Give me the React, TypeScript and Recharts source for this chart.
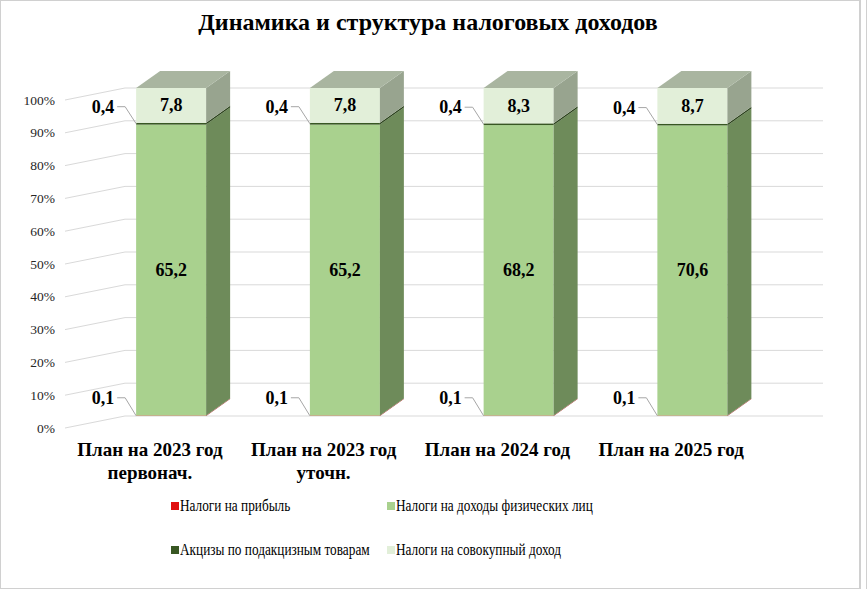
import { BarChart, Bar, XAxis, YAxis, CartesianGrid, LabelList } from 'recharts'

const categories = ['План на 2023 год\nпервонач.', 'План на 2023 год\nуточн.', 'План на 2024 год', 'План на 2025 год']
const profitTax = [0.1, 0.1, 0.1, 0.1]
const personalIncomeTax = [65.2, 65.2, 68.2, 70.6]
const excises = [0.4, 0.4, 0.4, 0.4]
const aggregateIncomeTax = [7.8, 7.8, 8.3, 8.7]
const yTicks = [0, 0.1, 0.2, 0.3, 0.4, 0.5, 0.6, 0.7, 0.8, 0.9, 1]

const SERIES = [
  { key: 'profit', name: 'Налоги на прибыль', front: '#e01010', side: '#a00c0c', legend: '#e01010' },
  { key: 'ndfl', name: 'Налоги на доходы физических лиц', front: '#a9d18e', side: '#6e8b5a', legend: '#a9d18e' },
  { key: 'excise', name: 'Акцизы по подакцизным товарам', front: '#385723', side: '#2b431b', legend: '#385723' },
  { key: 'aggregate', name: 'Налоги на совокупный доход', front: '#e2efd9', side: '#98a48f', legend: '#e2efd9', top: '#a9b5a0' },
]

const data = categories.map((name, i) => ({
  name,
  profit: profitTax[i],
  ndfl: personalIncomeTax[i],
  excise: excises[i],
  aggregate: aggregateIncomeTax[i],
}))

const FONT = "'Liberation Serif', 'DejaVu Serif', serif"
const DX = 24
const DY = -17

const fmt = (v: number) => v.toFixed(1).replace('.', ',')

function makeShape(front: string, side: string, top?: string) {
  return (props: any) => {
    const { x, y, width, height } = props
    if (x == null || y == null) return <g />
    const h = Math.max(height, 0)
    return (
      <g>
        <rect x={x} y={y} width={width} height={h} fill={front} />
        <polygon
          points={`${x + width},${y} ${x + width + DX},${y + DY} ${x + width + DX},${y + h + DY} ${x + width},${y + h}`}
          fill={side}
        />
        {top && (
          <polygon
            points={`${x},${y} ${x + DX},${y + DY} ${x + width + DX},${y + DY} ${x + width},${y}`}
            fill={top}
          />
        )}
      </g>
    )
  }
}

function box(props: any) {
  const vb = props.viewBox || {}
  return {
    x: vb.x ?? props.x,
    y: vb.y ?? props.y,
    width: vb.width ?? props.width,
    height: vb.height ?? props.height,
  }
}

function centerLabel(values: number[]) {
  return (props: any) => {
    const { x, y, width, height } = box(props)
    return (
      <text
        x={x + width / 2}
        y={y + height / 2}
        textAnchor="middle"
        dominantBaseline="central"
        fontFamily={FONT}
        fontWeight="bold"
        fontSize={18}
        fill="#000"
      >
        {fmt(values[props.index])}
      </text>
    )
  }
}

function sideLabel(values: number[], rise: number) {
  return (props: any) => {
    const { x, y, height } = box(props)
    const ty = y + height / 2 - rise
    return (
      <g>
        <polyline
          points={`${x - 19},${ty} ${x - 11},${ty} ${x},${y + height / 2}`}
          fill="none"
          stroke="#a6a6a6"
          strokeWidth={1}
        />
        <text
          x={x - 22}
          y={ty}
          textAnchor="end"
          dominantBaseline="central"
          fontFamily={FONT}
          fontWeight="bold"
          fontSize={18}
          fill="#000"
        >
          {fmt(values[props.index])}
        </text>
      </g>
    )
  }
}

function YTick(props: any) {
  const { y, payload } = props
  return (
    <g>
      <line x1={65} y1={y + 12} x2={125} y2={y} stroke="#d9d9d9" strokeWidth={1} />
      <text
        x={55}
        y={y + 12}
        textAnchor="end"
        dominantBaseline="central"
        fontFamily={FONT}
        fontSize={13.5}
        fill="#262626"
      >
        {Math.round(payload.value * 100)}%
      </text>
    </g>
  )
}

function XTick(props: any) {
  const { x, y, payload } = props
  const lines = String(payload.value).split('\n')
  return (
    <g>
      {lines.map((line, i) => (
        <text
          key={i}
          x={x - 21}
          y={y + 32 + i * 23}
          textAnchor="middle"
          fontFamily={FONT}
          fontWeight="bold"
          fontSize={19}
          fill="#000"
        >
          {line}
        </text>
      ))}
    </g>
  )
}

function LegendBlock() {
  const pos = [
    { left: 171, top: 497 },
    { left: 387, top: 497 },
    { left: 171, top: 541 },
    { left: 387, top: 541 },
  ]
  return (
    <>
      {SERIES.map((s, i) => (
        <div
          key={s.key}
          style={{
            position: 'absolute',
            left: pos[i].left,
            top: pos[i].top,
            display: 'flex',
            alignItems: 'center',
            fontFamily: FONT,
            fontSize: 16,
            color: '#000',
            whiteSpace: 'nowrap',
          }}
        >
          <span style={{ display: 'inline-block', width: 8, height: 8, background: s.legend, marginRight: 1 }} />
          <span style={{ display: 'inline-block', transform: 'scaleX(0.83)', transformOrigin: 'left center' }}>
            {s.name}
          </span>
        </div>
      ))}
    </>
  )
}

export default function App() {
  return (
    <div style={{ position: 'absolute', left: 0, top: 0, width: 868, height: 589, background: '#fff', overflow: 'hidden' }}>
      <div style={{ position: 'absolute', left: 0, top: 0, width: 858, height: 587, border: '1px solid #d0d0d0' }} />
      <div style={{ position: 'absolute', left: 860, top: 0, width: 0, height: 589, borderLeft: '1px solid #d0d0d0' }} />
      <div style={{ position: 'absolute', left: 866, top: 0, width: 0, height: 589, borderLeft: '1px solid #d0d0d0' }} />
      <div
        style={{
          position: 'absolute',
          left: 0,
          top: 9,
          width: 856,
          textAlign: 'center',
          fontFamily: FONT,
          fontWeight: 'bold',
          fontSize: 24,
          color: '#000',
        }}
      >
        Динамика и структура налоговых доходов
      </div>
      <BarChart
        width={868}
        height={589}
        data={data}
        stackOffset="expand"
        barCategoryGap="30%"
        margin={{ top: 88, right: 89, bottom: 113, left: 0 }}
        style={{ position: 'absolute', left: 0, top: 0 }}
      >
        <CartesianGrid vertical={false} x={125} width={698} stroke="#d9d9d9" />
        <XAxis dataKey="name" height={60} axisLine={false} tickLine={false} interval={0} tick={<XTick />} />
        <YAxis width={84} domain={[0, 1]} ticks={yTicks} axisLine={false} tickLine={false} tick={<YTick />} />
        <Bar dataKey="profit" stackId="a" isAnimationActive={false} shape={makeShape(SERIES[0].front, SERIES[0].side)}>
          <LabelList content={sideLabel(profitTax, 18)} />
        </Bar>
        <Bar dataKey="ndfl" stackId="a" isAnimationActive={false} shape={makeShape(SERIES[1].front, SERIES[1].side)}>
          <LabelList content={centerLabel(personalIncomeTax)} />
        </Bar>
        <Bar dataKey="excise" stackId="a" isAnimationActive={false} shape={makeShape(SERIES[2].front, SERIES[2].side)}>
          <LabelList content={sideLabel(excises, 17)} />
        </Bar>
        <Bar
          dataKey="aggregate"
          stackId="a"
          isAnimationActive={false}
          shape={makeShape(SERIES[3].front, SERIES[3].side, SERIES[3].top)}
        >
          <LabelList content={centerLabel(aggregateIncomeTax)} />
        </Bar>
      </BarChart>
      <LegendBlock />
    </div>
  )
}
